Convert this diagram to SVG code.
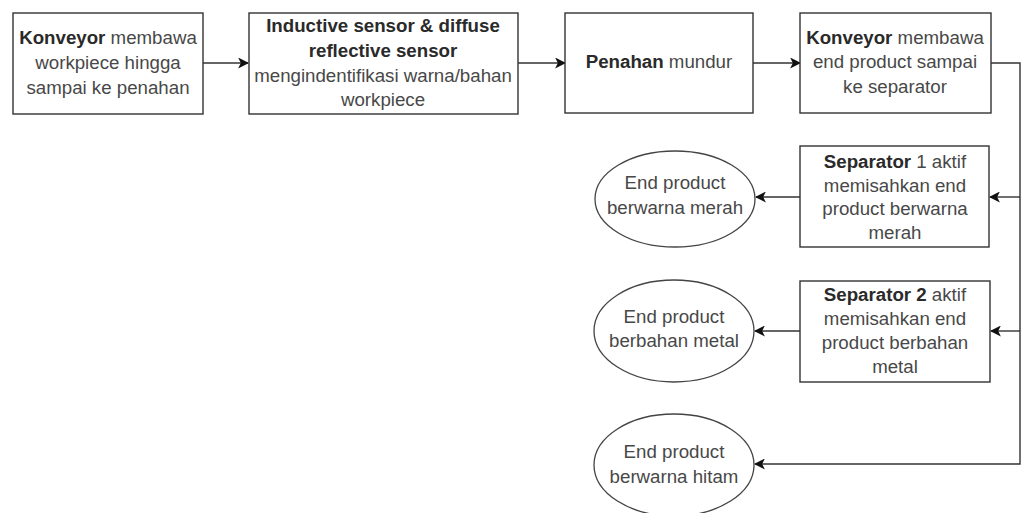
<svg xmlns="http://www.w3.org/2000/svg" width="1028" height="513" viewBox="0 0 1028 513">
  <defs>
    <marker id="arrow" viewBox="0 0 10 10" refX="9" refY="5" markerWidth="11" markerHeight="11" markerUnits="userSpaceOnUse" orient="auto">
      <path d="M0,0 L10,5 L0,10 L2.5,5 Z" fill="#111"/>
    </marker>
    <style>
      .box { fill: #fff; stroke: #333; stroke-width: 1.4; }
      .oval { fill: #fff; stroke: #444; stroke-width: 1.3; }
      .edge { fill: none; stroke: #333; stroke-width: 1.4; marker-end: url(#arrow); }
      text { font-family: "Liberation Sans", Arial, sans-serif; font-size: 18.7px; fill: #484848; text-anchor: middle; }
      .b { font-weight: bold; fill: #2a2a2a; }
    </style>
  </defs>
  <rect width="1028" height="513" fill="#fff"/>

  <!-- connectors -->
  <g id="connectors">
    <path class="edge" d="M203,63 L248,63"/>
    <path class="edge" d="M518,63 L565,63"/>
    <path class="edge" d="M753,63 L800,63"/>
    <path class="edge" d="M991,63 L1020,63 L1020,464 L755,464"/>
    <path class="edge" d="M1020,197 L990,197"/>
    <path class="edge" d="M1020,331 L991,331"/>
    <path class="edge" d="M800,197 L756,197"/>
    <path class="edge" d="M800,331 L755,331"/>
  </g>

  <!-- top row -->
  <g id="konveyor-1">
    <rect class="box" x="13" y="13" width="190" height="101"/>
    <text x="108" y="44"><tspan class="b">Konveyor</tspan> membawa</text>
    <text x="108" y="69">workpiece hingga</text>
    <text x="108" y="94">sampai ke penahan</text>
  </g>

  <g id="sensor">
    <rect class="box" x="249" y="13" width="269" height="101"/>
    <text x="383" y="32" class="b">Inductive sensor &amp; diffuse</text>
    <text x="383" y="57" class="b">reflective sensor</text>
    <text x="383" y="82">mengindentifikasi warna/bahan</text>
    <text x="383" y="106">workpiece</text>
  </g>

  <g id="penahan">
    <rect class="box" x="565" y="13" width="188" height="100"/>
    <text x="659" y="68"><tspan class="b">Penahan</tspan> mundur</text>
  </g>

  <g id="konveyor-2">
    <rect class="box" x="800" y="13" width="191" height="100"/>
    <text x="895" y="44"><tspan class="b">Konveyor</tspan> membawa</text>
    <text x="895" y="68">end product sampai</text>
    <text x="895" y="93">ke separator</text>
  </g>

  <!-- separators -->
  <g id="separator-1">
    <rect class="box" x="800" y="146" width="189" height="101"/>
    <text x="895" y="168"><tspan class="b">Separator</tspan> 1 aktif</text>
    <text x="895" y="192">memisahkan end</text>
    <text x="895" y="215">product berwarna</text>
    <text x="895" y="239">merah</text>
  </g>

  <g id="separator-2">
    <rect class="box" x="800" y="281" width="190" height="101"/>
    <text x="895" y="301"><tspan class="b">Separator 2</tspan> aktif</text>
    <text x="895" y="325">memisahkan end</text>
    <text x="895" y="349">product berbahan</text>
    <text x="895" y="373">metal</text>
  </g>

  <!-- end products -->
  <g id="merah">
    <ellipse class="oval" cx="675" cy="199" rx="80" ry="48"/>
    <text x="675" y="189">End product</text>
    <text x="675" y="214">berwarna merah</text>
  </g>

  <g id="metal">
    <ellipse class="oval" cx="674" cy="331" rx="80" ry="51"/>
    <text x="674" y="323">End product</text>
    <text x="674" y="347">berbahan metal</text>
  </g>

  <g id="hitam">
    <ellipse class="oval" cx="674" cy="465" rx="80" ry="51"/>
    <text x="674" y="458">End product</text>
    <text x="674" y="483">berwarna hitam</text>
  </g>
</svg>
